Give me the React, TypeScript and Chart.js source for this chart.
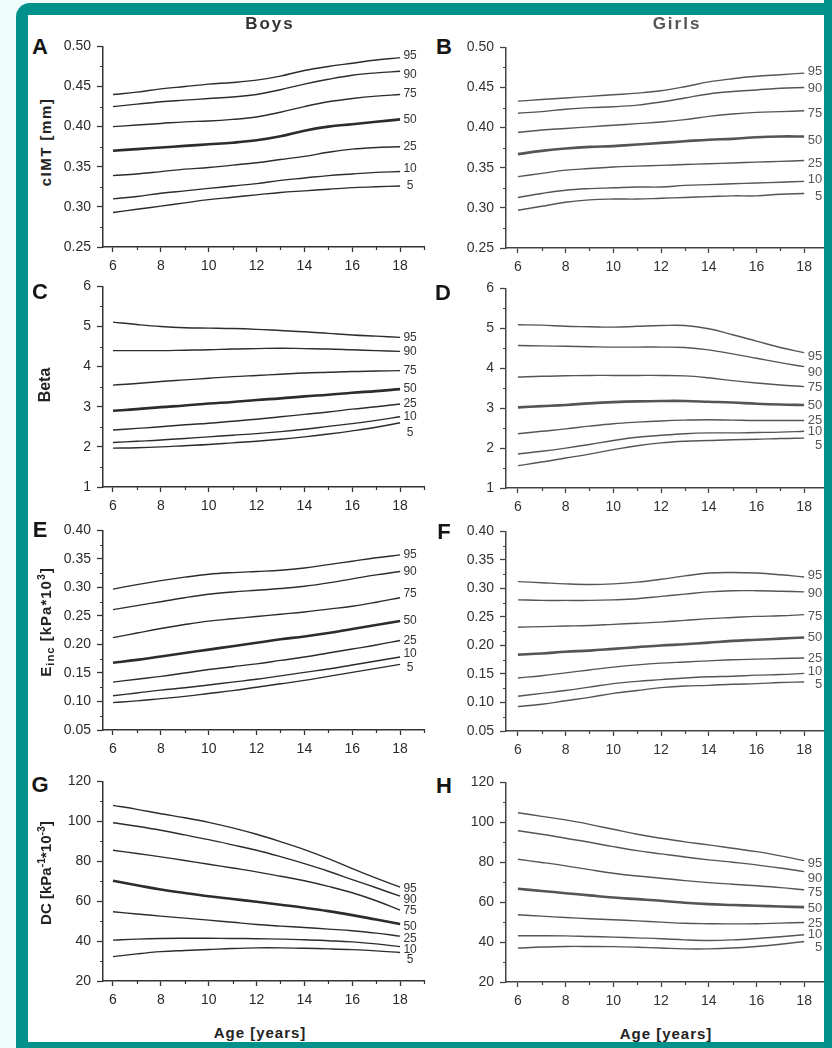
import React, { useEffect, useRef } from "react";
import { Chart, registerables } from "chart.js";

Chart.register(...registerables);
Chart.defaults.font.family = '"Liberation Sans", Arial, Helvetica, sans-serif';

// ---------- data ----------
const AGES = [6, 7, 8, 9, 10, 11, 12, 13, 14, 15, 16, 17, 18];
const PERCENTILE_LABELS = ["95", "90", "75", "50", "25", "10", "5"];
const X_TICKS = [6, 8, 10, 12, 14, 16, 18];
const X_MINOR_TICKS = [7, 9, 11, 13, 15, 17, 19];

const CIMT_TICKS = [0.25, 0.3, 0.35, 0.4, 0.45, 0.5];
const CIMT_MINOR = [0.275, 0.325, 0.375, 0.425, 0.475];
const BETA_TICKS = [1, 2, 3, 4, 5, 6];
const BETA_MINOR = [1.5, 2.5, 3.5, 4.5, 5.5];
const EINC_TICKS = [0.05, 0.1, 0.15, 0.2, 0.25, 0.3, 0.35, 0.4];
const EINC_MINOR = [0.075, 0.125, 0.175, 0.225, 0.275, 0.325, 0.375];
const DC_TICKS = [20, 40, 60, 80, 100, 120];
const DC_MINOR = [30, 50, 70, 90, 110];

// rows: P95, P90, P75, P50, P25, P10, P5 — one value per age 6..18
const cimtBoys = [
  [0.44, 0.443, 0.447, 0.45, 0.453, 0.455, 0.458, 0.463, 0.47, 0.475, 0.479, 0.483, 0.486],
  [0.425, 0.428, 0.431, 0.433, 0.435, 0.437, 0.44, 0.446, 0.453, 0.459, 0.464, 0.467, 0.469],
  [0.4, 0.402, 0.404, 0.406, 0.407, 0.409, 0.412, 0.418, 0.425, 0.431, 0.435, 0.438, 0.44],
  [0.37, 0.372, 0.374, 0.376, 0.378, 0.38, 0.383, 0.388, 0.395, 0.4, 0.403, 0.406, 0.409],
  [0.339, 0.341, 0.344, 0.347, 0.349, 0.352, 0.355, 0.359, 0.363, 0.368, 0.372, 0.374, 0.375],
  [0.31, 0.313, 0.317, 0.32, 0.323, 0.326, 0.329, 0.333, 0.336, 0.339, 0.341, 0.343, 0.344],
  [0.293, 0.297, 0.301, 0.305, 0.309, 0.312, 0.315, 0.318, 0.32, 0.322, 0.324, 0.325, 0.326],
];
const cimtGirls = [
  [0.433, 0.435, 0.437, 0.439, 0.441, 0.443, 0.446, 0.451, 0.457, 0.461, 0.464, 0.466, 0.468],
  [0.418, 0.42, 0.423, 0.425, 0.426, 0.428, 0.432, 0.437, 0.442, 0.445, 0.447, 0.449, 0.45],
  [0.394, 0.397, 0.399, 0.401, 0.403, 0.405, 0.407, 0.41, 0.414, 0.417, 0.419, 0.42, 0.421],
  [0.367, 0.371, 0.374, 0.376, 0.377, 0.379, 0.381, 0.383, 0.385, 0.386, 0.388, 0.389, 0.389],
  [0.339, 0.343, 0.347, 0.349, 0.351, 0.352, 0.353, 0.354, 0.355, 0.356, 0.357, 0.358, 0.359],
  [0.313, 0.318, 0.322, 0.324, 0.325, 0.326, 0.326, 0.328, 0.329, 0.33, 0.331, 0.332, 0.333],
  [0.297, 0.302, 0.307, 0.31, 0.311, 0.311, 0.312, 0.313, 0.314, 0.315, 0.315, 0.317, 0.318],
];
const betaBoys = [
  [5.11, 5.05, 5.0, 4.97, 4.96, 4.95, 4.93, 4.9, 4.87, 4.83, 4.79, 4.76, 4.73],
  [4.4, 4.4, 4.4, 4.41, 4.42, 4.44, 4.45, 4.46, 4.45, 4.44, 4.42, 4.4, 4.38],
  [3.54, 3.58, 3.63, 3.67, 3.71, 3.75, 3.78, 3.81, 3.84, 3.86, 3.88, 3.89, 3.9],
  [2.9, 2.94, 2.99, 3.03, 3.08, 3.12, 3.17, 3.21, 3.26, 3.3, 3.35, 3.39, 3.44],
  [2.42, 2.46, 2.5, 2.55, 2.59, 2.64, 2.69, 2.75, 2.81, 2.87, 2.94, 3.0, 3.07],
  [2.11, 2.14, 2.17, 2.21, 2.25, 2.29, 2.33, 2.38, 2.44, 2.51, 2.58, 2.66, 2.75],
  [1.97, 1.98, 2.0, 2.03, 2.06, 2.1, 2.14, 2.19, 2.25, 2.32, 2.4, 2.49, 2.6],
];
const betaGirls = [
  [5.09, 5.08, 5.05, 5.04, 5.03, 5.05, 5.07, 5.07, 4.99, 4.84, 4.68, 4.52, 4.39],
  [4.57, 4.56, 4.55, 4.54, 4.53, 4.53, 4.53, 4.52, 4.46, 4.36, 4.25, 4.14, 4.04],
  [3.78, 3.8, 3.81, 3.82, 3.82, 3.82, 3.82, 3.81, 3.76, 3.69, 3.63, 3.58, 3.54],
  [3.02, 3.05, 3.08, 3.12, 3.15, 3.17, 3.18, 3.18, 3.16, 3.14, 3.11, 3.09, 3.08],
  [2.36, 2.42, 2.48, 2.55, 2.61, 2.65, 2.68, 2.7, 2.71, 2.7, 2.69, 2.69, 2.69],
  [1.85, 1.92, 2.0, 2.09, 2.19, 2.27, 2.32, 2.36, 2.38, 2.38, 2.39, 2.4, 2.42],
  [1.56, 1.65, 1.75, 1.85, 1.96, 2.06, 2.13, 2.17, 2.19, 2.21, 2.22, 2.24, 2.25],
];
const eincBoys = [
  [0.297, 0.305, 0.312, 0.318, 0.323, 0.326, 0.328, 0.33, 0.334, 0.34, 0.346, 0.352, 0.357],
  [0.261, 0.268, 0.275, 0.282, 0.288, 0.292, 0.295, 0.298, 0.302, 0.308, 0.315, 0.322, 0.328],
  [0.212, 0.22, 0.228, 0.235, 0.241, 0.245, 0.249, 0.253, 0.257, 0.262, 0.267, 0.274, 0.282],
  [0.168, 0.173, 0.179, 0.185, 0.191, 0.197, 0.203, 0.209, 0.214, 0.22, 0.227, 0.234, 0.241],
  [0.134, 0.139, 0.144, 0.15, 0.156, 0.161, 0.166, 0.172, 0.178, 0.185, 0.192, 0.199, 0.207],
  [0.11, 0.115, 0.12, 0.124, 0.129, 0.134, 0.139, 0.145, 0.151, 0.157, 0.164, 0.171, 0.178],
  [0.098, 0.101, 0.105, 0.109, 0.114, 0.119, 0.125, 0.131, 0.137, 0.144, 0.151, 0.158, 0.165],
];
const eincGirls = [
  [0.312, 0.31, 0.308, 0.307, 0.308, 0.311, 0.316, 0.322, 0.327, 0.328, 0.327, 0.324, 0.32],
  [0.28, 0.279, 0.279, 0.279, 0.28, 0.282, 0.286, 0.29, 0.294, 0.296, 0.296, 0.295, 0.294],
  [0.232, 0.233, 0.234, 0.235, 0.237, 0.239, 0.241, 0.244, 0.247, 0.249, 0.251, 0.252, 0.254],
  [0.184, 0.186, 0.189, 0.191, 0.194, 0.197, 0.2, 0.202, 0.205, 0.208, 0.21, 0.212, 0.214],
  [0.143, 0.147, 0.152, 0.157, 0.162, 0.166, 0.169, 0.171, 0.173, 0.175, 0.176, 0.177, 0.178],
  [0.111, 0.116, 0.121, 0.127, 0.133, 0.137, 0.14, 0.143, 0.145, 0.146, 0.148, 0.149, 0.151],
  [0.093, 0.097, 0.103, 0.109, 0.116, 0.121, 0.126, 0.129, 0.13, 0.132, 0.133, 0.135, 0.136],
];
const dcBoys = [
  [108, 106, 103.8, 101.8, 99.5, 96.7, 93.5, 89.8, 85.8, 81.3, 76.3, 71.5, 67],
  [99.3, 97.5, 95.5, 93.2, 90.8, 88.2, 85.5, 82.3, 78.8, 75, 70.8, 66.7, 62.5],
  [85.5, 83.9, 82.2, 80.4, 78.5, 76.6, 74.7, 72.5, 70.2, 67.4, 64.2, 60.2, 55.5],
  [70.2, 68, 65.8, 64.1, 62.5, 61.1, 59.7, 58.2, 56.7, 55, 53, 50.8, 48.6],
  [54.7, 53.6, 52.5, 51.5, 50.5, 49.4, 48.3, 47.5, 46.8, 46, 45.2, 44, 42.5],
  [40.5, 41, 41.3, 41.4, 41.4, 41.3, 41.2, 41, 40.7, 40.2, 39.6, 38.6, 37.2],
  [32.2, 33.6, 34.7, 35.3, 35.8, 36.3, 36.6, 36.6, 36.4, 36.1, 35.7, 35.1, 34.3],
];
const dcGirls = [
  [104.8, 103, 101.2, 99, 96.5, 94, 92, 90.2, 88.7, 87, 85.3, 83.2, 80.8],
  [95.8, 94, 92, 90, 87.8, 85.8, 84.2, 82.6, 81.2, 80, 78.7, 77.1, 75.3],
  [81.5, 79.9, 78.2, 76.3, 74.5, 73.1, 72, 70.8, 69.8, 69, 68.2, 67.3, 66.2],
  [66.7, 65.6, 64.5, 63.4, 62.3, 61.5, 60.7, 59.7, 59, 58.6, 58.2, 57.8, 57.5],
  [53.7, 53, 52.3, 51.7, 51.2, 50.6, 50, 49.4, 49.2, 49.1, 49.2, 49.5, 49.8],
  [43.2, 43.2, 43.1, 42.8, 42.5, 42.1, 41.7, 41.1, 40.8, 41.1, 41.8, 42.7, 43.7],
  [37, 37.5, 37.8, 37.8, 37.7, 37.4, 37, 36.6, 36.6, 37, 37.8, 38.9, 40.3],
];

// ---------- layout / style ----------
const FONT = '"Liberation Sans", Arial, Helvetica, sans-serif';
const PAD_TOP = 14;
const X_AXIS_H = 34;

type Col = {
  canvasLeft: number; axisX: number; rightX: number; xMin: number; xMax: number;
  padRight: number; line: string; axis: string; text: string; label: string; labelSize: number;
};
const BOYS: Col = {
  canvasLeft: 56, axisX: 103, rightX: 424, xMin: 5.582, xMax: 19, padRight: 8,
  line: "#2c2c2c", axis: "#333", text: "#2a2a2a", label: "#333", labelSize: 12,
};
const GIRLS: Col = {
  canvasLeft: 460, axisX: 506, rightX: 828, xMin: 5.5, xMax: 19, padRight: 4,
  line: "#555", axis: "#444", text: "#333", label: "#555", labelSize: 13,
};

type PanelDef = {
  col: Col; series: number[][]; yTicks: number[]; yMinor: number[]; decimals: number;
  plotTop: number; plotBottom: number; nudges: number[]; girls: boolean;
};

const PANELS: PanelDef[] = [
  { col: BOYS, girls: false, series: cimtBoys, yTicks: CIMT_TICKS, yMinor: CIMT_MINOR, decimals: 2, plotTop: 46, plotBottom: 247, nudges: [-2, 3, -1, 0, 0, -3, 0] },
  { col: GIRLS, girls: true, series: cimtGirls, yTicks: CIMT_TICKS, yMinor: CIMT_MINOR, decimals: 2, plotTop: 47, plotBottom: 248, nudges: [-2, 1, 3, 4, 3, -2, 3] },
  { col: BOYS, girls: false, series: betaBoys, yTicks: BETA_TICKS, yMinor: BETA_MINOR, decimals: 0, plotTop: 286, plotBottom: 487, nudges: [0, 0, 0, 0, 0, 0, 10] },
  { col: GIRLS, girls: true, series: betaGirls, yTicks: BETA_TICKS, yMinor: BETA_MINOR, decimals: 0, plotTop: 288, plotBottom: 488, nudges: [4, 6, 1, 0, 0, 0, 7] },
  { col: BOYS, girls: false, series: eincBoys, yTicks: EINC_TICKS, yMinor: EINC_MINOR, decimals: 2, plotTop: 530, plotBottom: 730, nudges: [0, 0, -4, 0, 0, -3, 3] },
  { col: GIRLS, girls: true, series: eincGirls, yTicks: EINC_TICKS, yMinor: EINC_MINOR, decimals: 2, plotTop: 531, plotBottom: 731, nudges: [-2, 2, 2, 0, 0, -2, 2] },
  { col: BOYS, girls: false, series: dcBoys, yTicks: DC_TICKS, yMinor: DC_MINOR, decimals: 0, plotTop: 781, plotBottom: 981, nudges: [1, 4, 1, 3, 3, 3, 7] },
  { col: GIRLS, girls: true, series: dcGirls, yTicks: DC_TICKS, yMinor: DC_MINOR, decimals: 0, plotTop: 782, plotBottom: 982, nudges: [3, 7, 3, 1, 1, 0, 6] },
];

function PanelChart({ p }: { p: PanelDef }) {
  const ref = useRef<HTMLCanvasElement | null>(null);
  const col = p.col;
  const width = col.rightX + col.padRight - col.canvasLeft;
  const height = p.plotBottom - p.plotTop + PAD_TOP + X_AXIS_H;

  useEffect(() => {
    if (!ref.current) return;
    const minorTicks = {
      id: "minorTicks",
      afterDraw(chart: any) {
        const { ctx } = chart;
        const xs = chart.scales.x;
        const ys = chart.scales.y;
        ctx.save();
        ctx.strokeStyle = col.axis;
        ctx.lineWidth = 1.2;
        ctx.beginPath();
        for (const v of X_MINOR_TICKS) {
          const px = Math.round(xs.getPixelForValue(v)) + 0.5;
          ctx.moveTo(px, xs.top);
          ctx.lineTo(px, xs.top + 3);
        }
        for (const v of p.yMinor) {
          const py = Math.round(ys.getPixelForValue(v)) + 0.5;
          ctx.moveTo(ys.right, py);
          ctx.lineTo(ys.right - 3, py);
        }
        ctx.stroke();
        ctx.restore();
      },
    };
    const endLabels = {
      id: "endLabels",
      afterDatasetsDraw(chart: any) {
        const { ctx } = chart;
        ctx.save();
        ctx.font = `${col.labelSize}px ${FONT}`;
        ctx.fillStyle = col.label;
        ctx.textBaseline = "middle";
        ctx.textAlign = p.girls ? "right" : "center";
        chart.data.datasets.forEach((_ds: any, i: number) => {
          const meta = chart.getDatasetMeta(i);
          const pt = meta.data[meta.data.length - 1];
          const x = p.girls ? pt.x + 18 : pt.x + 10;
          ctx.fillText(PERCENTILE_LABELS[i], x, pt.y + p.nudges[i]);
        });
        ctx.restore();
      },
    };

    const chart = new Chart(ref.current, {
      type: "line",
      data: {
        datasets: p.series.map((row, i) => ({
          label: PERCENTILE_LABELS[i],
          data: AGES.map((a, j) => ({ x: a, y: row[j] })),
          borderColor: col.line,
          borderWidth: i === 3 ? 2.6 : 1.4,
          pointRadius: 0,
          tension: 0.4,
          fill: false,
        })),
      },
      options: {
        responsive: false,
        animation: false,
        events: [],
        layout: { padding: { top: PAD_TOP, right: col.padRight, left: 0, bottom: 0 } },
        plugins: { legend: { display: false }, tooltip: { enabled: false } },
        scales: {
          x: {
            type: "linear",
            min: col.xMin,
            max: col.xMax,
            afterBuildTicks: (s: any) => {
              s.ticks = X_TICKS.map((v) => ({ value: v }));
            },
            afterFit: (s: any) => {
              s.height = X_AXIS_H;
            },
            grid: { drawOnChartArea: false, drawTicks: true, tickLength: 5, tickColor: col.axis, tickWidth: 1.3 },
            border: { display: true, color: col.axis, width: 1.5 },
            ticks: {
              padding: 6, color: col.text, font: { size: 14 }, maxRotation: 0, autoSkip: false,
              callback: (v: any) => String(v),
            },
          },
          y: {
            type: "linear",
            min: p.yTicks[0],
            max: p.yTicks[p.yTicks.length - 1],
            afterBuildTicks: (s: any) => {
              s.ticks = p.yTicks.map((v) => ({ value: v }));
            },
            afterFit: (s: any) => {
              s.width = col.axisX - col.canvasLeft;
            },
            grid: { drawOnChartArea: false, drawTicks: true, tickLength: 6, tickColor: col.axis, tickWidth: 1.3 },
            border: { display: true, color: col.axis, width: 1.5 },
            ticks: {
              padding: 6, color: col.text, font: { size: 14 }, autoSkip: false,
              callback: (v: any) => Number(v).toFixed(p.decimals),
            },
          },
        },
      },
      plugins: [minorTicks, endLabels],
    } as any);
    return () => chart.destroy();
  }, []);

  return (
    <canvas
      ref={ref}
      width={width}
      height={height}
      style={{ position: "absolute", left: col.canvasLeft, top: p.plotTop - PAD_TOP, width, height }}
    />
  );
}

function Txt({ x, y, size, color, rotate, spacing, children }: any) {
  return (
    <div
      style={{
        position: "absolute", left: x, top: y,
        transform: `translate(-50%, -50%)${rotate ? " rotate(-90deg)" : ""}`,
        fontFamily: FONT, fontWeight: 700, fontSize: size, color, lineHeight: 1,
        whiteSpace: "nowrap", letterSpacing: spacing ?? 0,
      }}
    >
      {children}
    </div>
  );
}

const supStyle = { fontSize: "0.7em", verticalAlign: "0.55em", lineHeight: 0 } as const;
const subStyle = { fontSize: "0.75em", verticalAlign: "-0.3em", lineHeight: 0 } as const;

export default function App() {
  return (
    <div style={{ position: "absolute", left: 0, top: 0, width: 832, height: 1048, overflow: "hidden", background: "#effcfc" }}>
      <div style={{ position: "absolute", left: 16, top: 3, width: 840, height: 1070, background: "#00918b", borderRadius: 14 }} />
      <div style={{ position: "absolute", left: 28, top: 15, width: 796, height: 1027, background: "#ffffff" }} />

      {PANELS.map((p, i) => (
        <PanelChart key={i} p={p} />
      ))}

      <Txt x={270} y={23} size={17} color="#333" spacing="2px">Boys</Txt>
      <Txt x={677} y={23} size={17} color="#555" spacing="2px">Girls</Txt>

      <Txt x={40} y={47} size={22} color="#151515">A</Txt>
      <Txt x={444} y={47} size={22} color="#151515">B</Txt>
      <Txt x={40} y={292} size={22} color="#151515">C</Txt>
      <Txt x={443} y={293} size={22} color="#151515">D</Txt>
      <Txt x={40} y={530} size={22} color="#151515">E</Txt>
      <Txt x={444} y={532} size={22} color="#151515">F</Txt>
      <Txt x={40} y={785} size={22} color="#151515">G</Txt>
      <Txt x={444} y={786} size={22} color="#151515">H</Txt>

      <Txt x={45} y={142} size={15} color="#222" rotate spacing="1.5px">cIMT [mm]</Txt>
      <Txt x={45} y={385} size={16} color="#222" rotate>Beta</Txt>
      <Txt x={45} y={622} size={15} color="#222" rotate spacing="1px">
        E<span style={subStyle}>inc</span> [kPa*10<span style={supStyle}>3</span>]
      </Txt>
      <Txt x={45} y={873} size={15} color="#222" rotate>
        DC [kPa<span style={supStyle}>-1</span>*10<span style={supStyle}>-3</span>]
      </Txt>

      <Txt x={260} y={1032} size={15} color="#222" spacing="1px">Age [years]</Txt>
      <Txt x={666} y={1033} size={15} color="#222" spacing="1px">Age [years]</Txt>

      <div style={{ position: "absolute", left: 824, top: 0, width: 8, height: 1048, background: "#00918b" }} />
      <div style={{ position: "absolute", left: 16, top: 1042, width: 816, height: 6, background: "#00918b" }} />
    </div>
  );
}
